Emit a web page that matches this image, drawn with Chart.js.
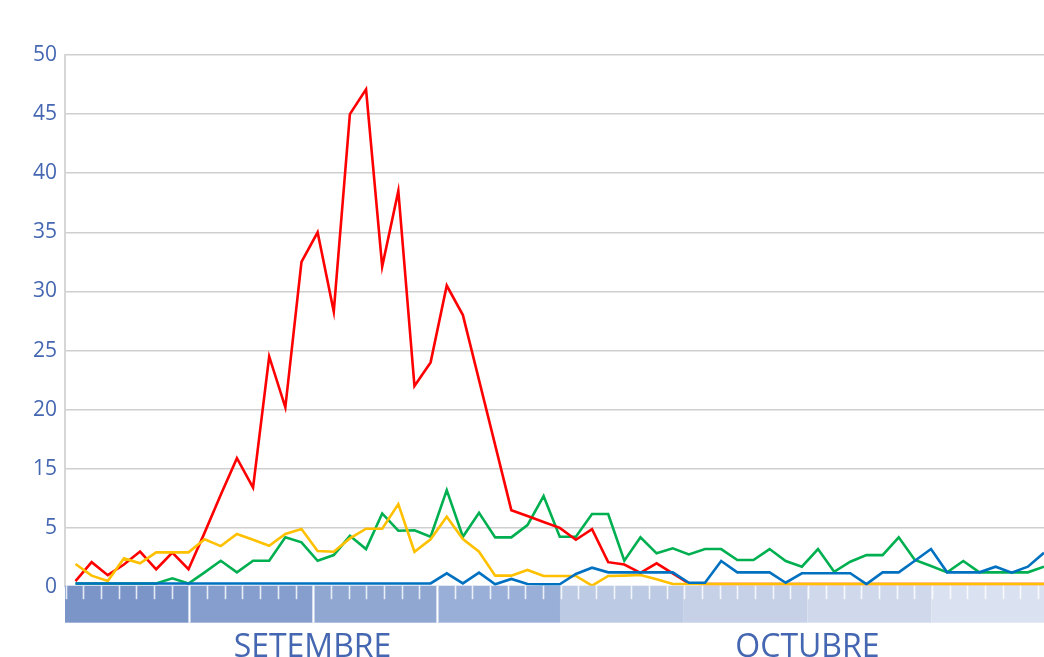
<!DOCTYPE html>
<html>
<head>
<meta charset="utf-8">
<script src="https://cdn.jsdelivr.net/npm/chart.js@4/dist/chart.umd.min.js"></script>
<style>
html,body{margin:0;padding:0;background:#ffffff;}
#wrap{width:1044px;height:657px;position:relative;overflow:hidden;}
canvas{display:block;}
</style>
</head>
<body>
<div id="wrap"><canvas id="c" width="1044" height="657"></canvas></div>
<script>
// Categories: days of September (1-30) and October (1-31)
const days = [1,2,3,4,5,6,7,8,9,10,11,12,13,14,15,16,17,18,19,20,21,22,23,24,25,26,27,28,29,30,
              1,2,3,4,5,6,7,8,9,10,11,12,13,14,15,16,17,18,19,20,21,22,23,24,25,26,27,28,29,30,31];
const months = ['SETEMBRE', 'OCTUBRE'];
// Tick labels exactly as printed on the reference axis
const yTickLabels = ['0','5','15','20','25','30','35','40','45','50'];

// Series values (in axis grid units)
const redSeries = [0.5,2.1,1.0,1.9,3.0,1.5,2.9,1.5,4.6,7.8,
                   10.9,8.4,19.5,15.2,27.5,30.0,23.3,40.0,42.1,27.1,
                   33.5,17.0,19.0,25.5,23.0,17.5,12.0,6.5,6.0,5.5,
                   5.0,4.0,4.9,2.1,1.9,1.2,2.0,1.15,0.3,0.25,
                   0.25,0.25,0.25,0.25,0.25,0.25,0.25,0.25,0.25,0.25,
                   0.25,0.25,0.25,0.25,0.25,0.25,0.25,0.25,0.25,0.25,0.25];
const yellowSeries = [1.94,0.96,0.51,2.42,2.0,2.93,2.93,2.93,4.03,3.46,
                      4.48,4.0,3.49,4.48,4.9,3.04,2.98,4.11,4.93,4.93,
                      7.01,2.98,4.03,5.94,4.05,2.98,0.96,0.96,1.44,0.93,
                      0.93,0.93,0.11,0.93,0.96,1.01,0.65,0.25,0.25,0.25,
                      0.25,0.25,0.25,0.25,0.25,0.25,0.25,0.25,0.25,0.25,
                      0.25,0.25,0.25,0.25,0.25,0.25,0.25,0.25,0.25,0.25,0.25];
const greenSeries = [0.3,0.3,0.3,0.3,0.3,0.3,0.73,0.3,1.24,2.22,
                     1.24,2.22,2.22,4.2,3.78,2.22,2.7,4.33,3.21,6.22,
                     4.76,4.8,4.25,8.19,4.25,6.28,4.2,4.2,5.24,7.69,
                     4.25,4.25,6.17,6.17,2.22,4.2,2.85,3.27,2.76,3.21,
                     3.21,2.28,2.28,3.21,2.2,1.72,3.21,1.29,2.14,2.7,
                     2.7,4.2,2.28,1.77,1.24,2.2,1.24,1.24,1.24,1.24,1.72];
const blueSeries = [0.3,0.3,0.3,0.3,0.3,0.3,0.3,0.3,0.3,0.3,
                    0.3,0.3,0.3,0.3,0.3,0.3,0.3,0.3,0.3,0.3,
                    0.3,0.3,0.3,1.16,0.31,1.21,0.23,0.68,0.25,0.23,
                    0.23,1.1,1.63,1.24,1.24,1.24,1.24,1.24,0.36,0.36,
                    2.2,1.24,1.24,1.24,0.36,1.16,1.16,1.16,1.16,0.25,
                    1.24,1.24,2.22,3.21,1.24,1.24,1.24,1.72,1.21,1.72,2.9];

const TEXT_COLOR = '#4567b2';

function toPoints(values) {
  return values.map((v, i) => ({ x: i, y: v }));
}

const bandPlugin = {
  id: 'monthBand',
  afterDatasetsDraw(chart) {
    const { ctx, chartArea: a, scales } = chart;
    const y0 = scales.y.getPixelForValue(0);
    const top = y0 - 1.3;
    const h = 37;
    const segW = a.width * 0.1264;
    const colors = ['#7c95c9', '#869ecd', '#90a7d2', '#9aafd7', '#bccae4', '#c6d1e8', '#d0d9ec', '#dae1f0'];
    ctx.save();
    colors.forEach((c, k) => {
      const x0 = a.left + k * segW;
      const x1 = Math.min(a.right, x0 + segW);
      if (x1 > x0) {
        ctx.fillStyle = c;
        ctx.fillRect(x0, top, x1 - x0, h);
      }
    });
    const step = segW / 7;
    for (let k = 0; a.left + 0.7 + k * step < a.right; k++) {
      const x = Math.round(a.left + 0.7 + k * step) + 0.5;
      const full = (k === 7 || k === 14 || k === 21);
      ctx.beginPath();
      ctx.strokeStyle = full ? '#ffffff' : 'rgba(255,255,255,0.8)';
      ctx.lineWidth = full ? 2 : 1.6;
      ctx.moveTo(x, top);
      ctx.lineTo(x, full ? top + h : top + 13.5);
      ctx.stroke();
    }
    ctx.fillStyle = TEXT_COLOR;
    ctx.font = '32px "Open Sans"';
    ctx.textAlign = 'center';
    ctx.textBaseline = 'alphabetic';
    months.forEach((m, k) => {
      ctx.fillText(m, a.left + (2 + 4 * k) * segW, 657);
    });
    ctx.restore();
  }
};

new Chart(document.getElementById('c'), {
  type: 'line',
  data: {
    labels: days,
    datasets: [
      { label: 'blau', data: toPoints(blueSeries), borderColor: '#0070c0' },
      { label: 'groc', data: toPoints(yellowSeries), borderColor: '#ffc000' },
      { label: 'vermell', data: toPoints(redSeries), borderColor: '#ff0000' },
      { label: 'verd', data: toPoints(greenSeries), borderColor: '#00b050' }
    ]
  },
  options: {
    responsive: false,
    animation: false,
    devicePixelRatio: 1,
    layout: { padding: { top: 55, bottom: 70, left: 0, right: 0 } },
    elements: {
      line: { borderWidth: 2.6, tension: 0, fill: false, borderJoinStyle: 'miter' },
      point: { radius: 0, hoverRadius: 0 }
    },
    plugins: { legend: { display: false }, tooltip: { enabled: false } },
    scales: {
      x: {
        type: 'linear',
        min: -0.65,
        max: 60,
        display: false
      },
      y: {
        min: 0,
        max: 45,
        afterFit(scale) { scale.width = 65; },
        border: { display: true, color: '#d6d6d6', width: 2 },
        grid: { color: '#cfcfcf', lineWidth: 1.5, drawTicks: false },
        ticks: {
          stepSize: 5,
          padding: 8,
          color: TEXT_COLOR,
          font: { family: '"Open Sans"', size: 21 },
          callback: (value, index) => yTickLabels[index]
        }
      }
    }
  },
  plugins: [bandPlugin]
});
</script>
</body>
</html>
